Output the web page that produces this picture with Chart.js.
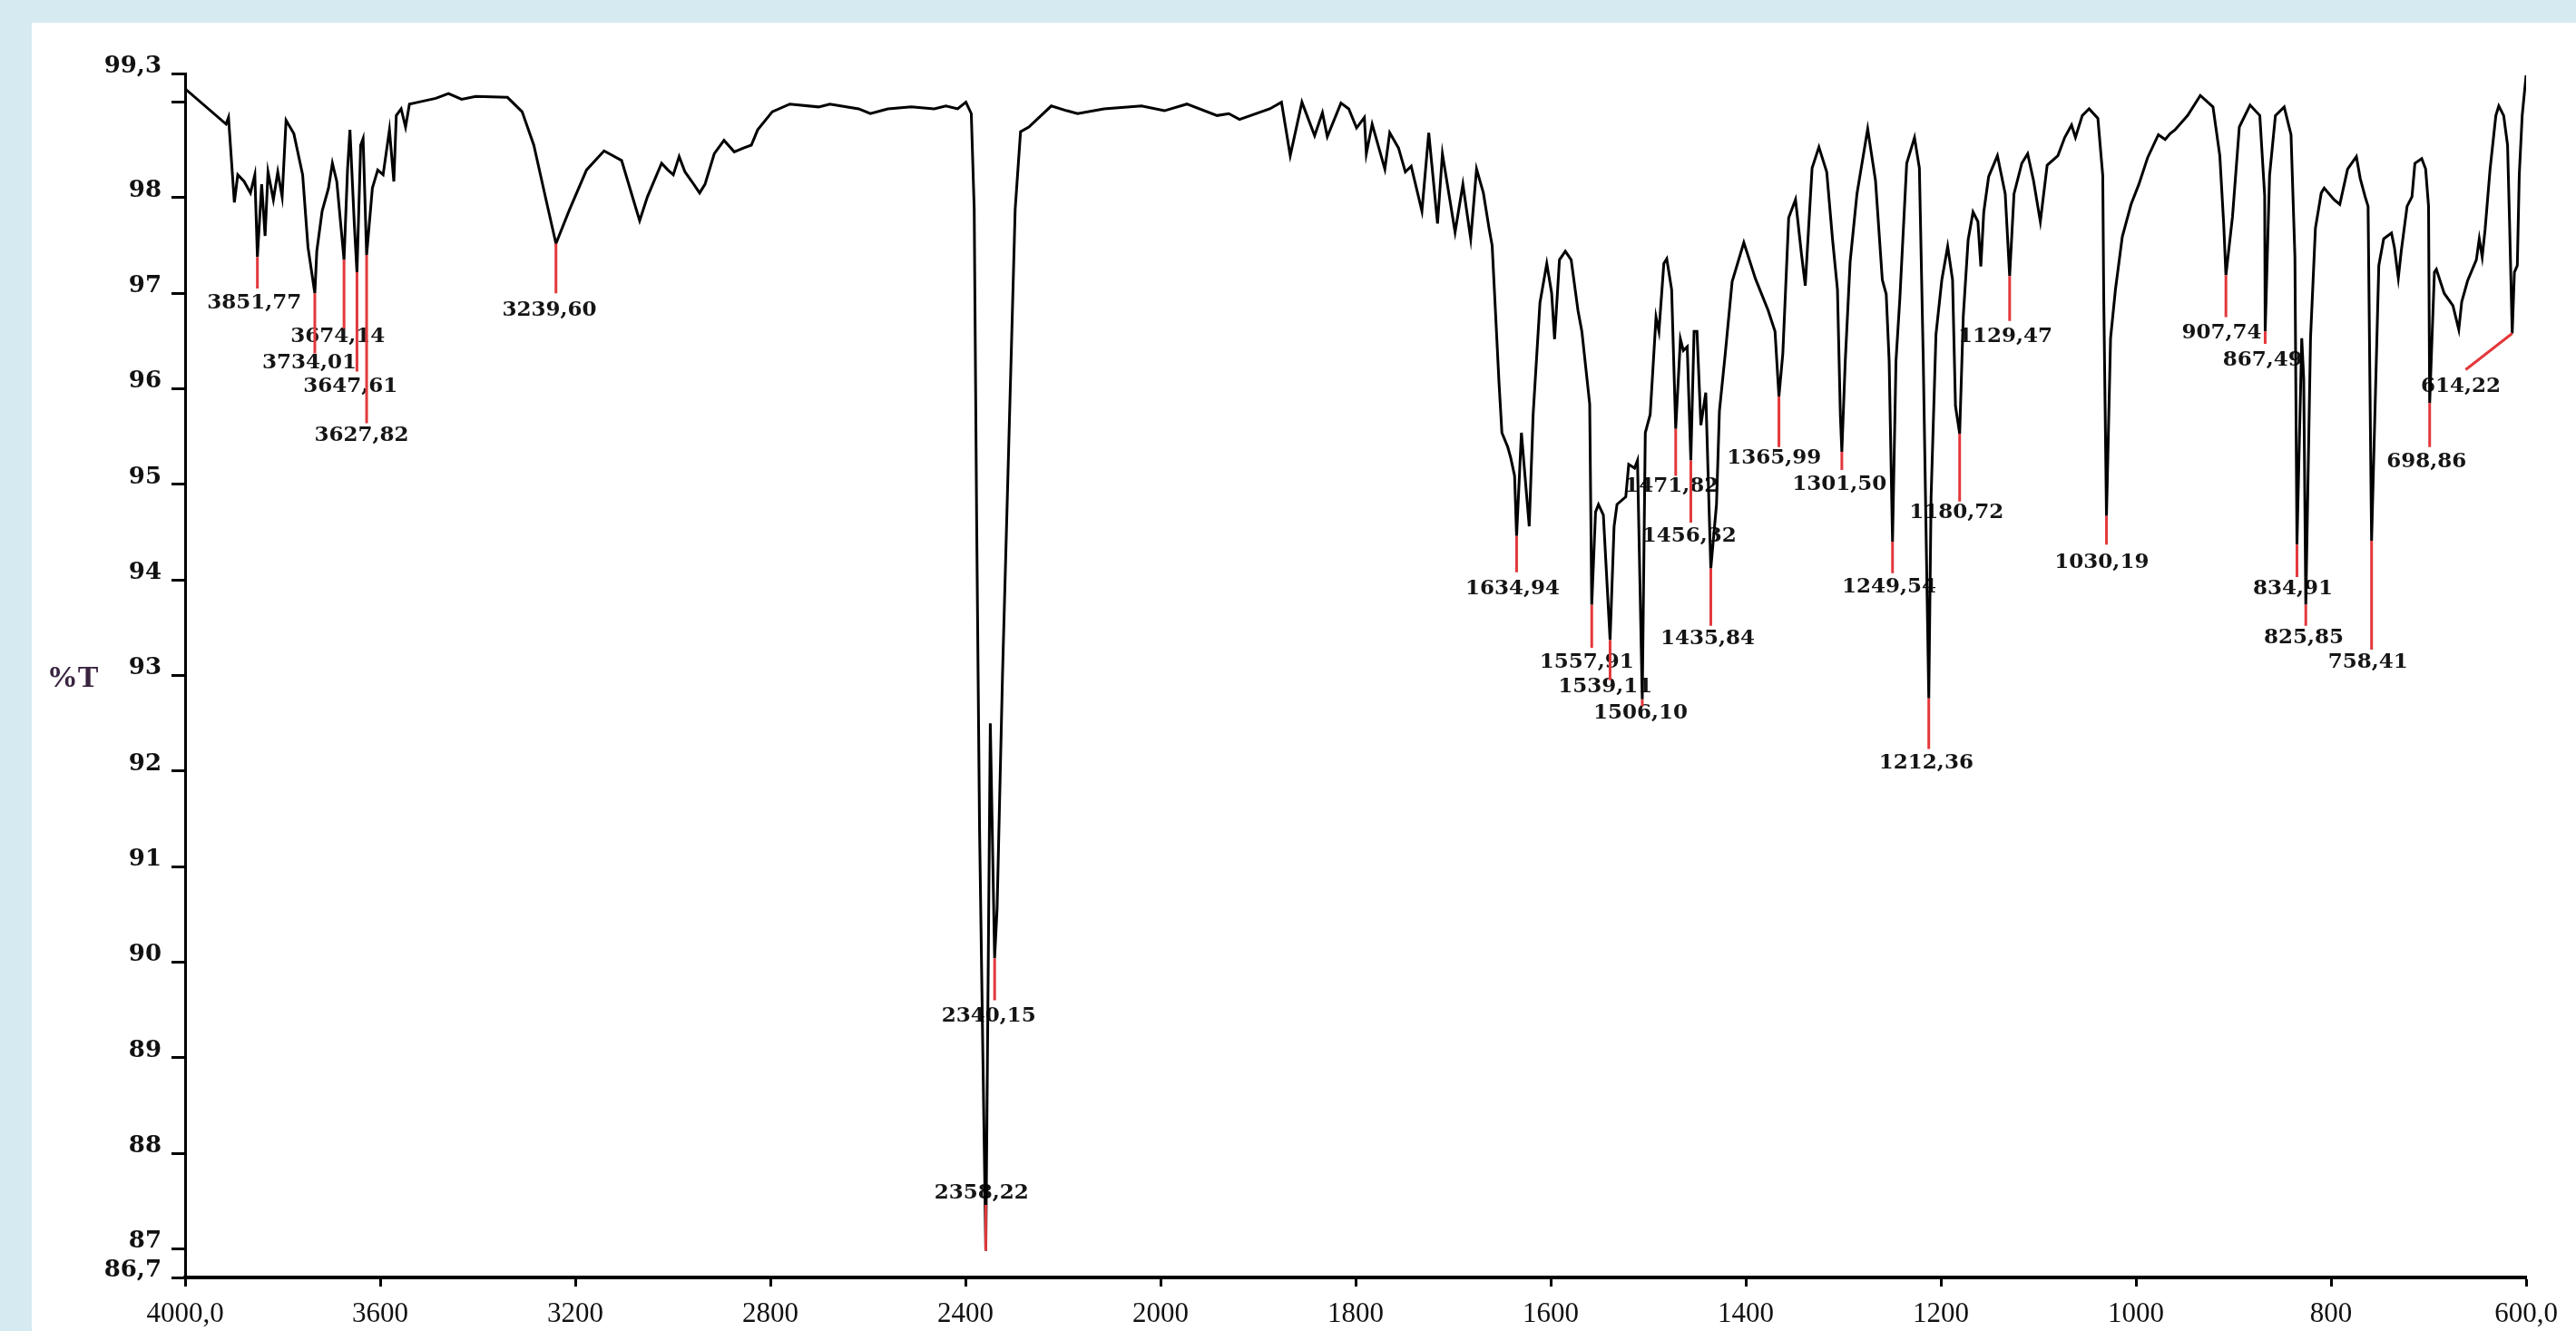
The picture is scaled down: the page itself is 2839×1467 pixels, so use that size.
<!DOCTYPE html>
<html>
<head>
<meta charset="utf-8">
<title>FTIR spectrum</title>
<script src="https://cdn.jsdelivr.net/npm/chart.js@4.4.1/dist/chart.umd.min.js"></script>
<style>
  html, body { margin: 0; padding: 0; width: 2839px; height: 1467px; overflow: hidden; background: #d6eaf1; }
  #panel { position: absolute; left: 35px; top: 25px; right: 0; bottom: 0; background: #ffffff; }
  #spectrum { position: absolute; left: 0; top: 0; }
</style>
</head>
<body>
<div id="panel"></div>
<canvas id="spectrum" width="2839" height="1467"></canvas>
<script>
// ---- Spectrum: wavenumber (cm-1) and transmittance (%T) ----
const waveNumbers = [
  4000, 3916, 3911, 3899, 3892, 3879, 3866, 3857, 3851.77, 3843, 3836, 3830, 3819, 3810, 3801, 3793,
  3777, 3759, 3748, 3734.01, 3730, 3719, 3706, 3698, 3689, 3674.14, 3667, 3662, 3653, 3647.61, 3640, 3635,
  3627.82, 3616, 3605, 3594, 3581, 3572, 3567, 3557, 3548, 3540, 3522, 3486, 3460, 3433, 3404, 3339,
  3309, 3285, 3260, 3239.60, 3213, 3177, 3141, 3105, 3081, 3068, 3052, 3023, 3010, 2999, 2987, 2975,
  2961, 2945, 2934, 2915, 2895, 2874, 2855, 2839, 2826, 2796, 2760, 2701, 2678, 2619, 2595, 2559,
  2511, 2464, 2440, 2416, 2399, 2388, 2382, 2377, 2371, 2364, 2358.22, 2349, 2340.15, 2335, 2324, 2311,
  2298, 2287, 2270, 2224, 2192, 2170, 2116, 2039, 1996, 1973, 1942, 1930, 1919, 1888, 1876, 1867,
  1855, 1842, 1834, 1829, 1815, 1807, 1799, 1791, 1789, 1783, 1770, 1765, 1756, 1749, 1743, 1732,
  1725, 1716, 1711, 1698, 1690, 1682, 1676, 1669, 1663, 1660, 1655, 1653, 1650, 1644, 1641, 1637,
  1634.94, 1630, 1627, 1622, 1618, 1611, 1604, 1599, 1596, 1591, 1585, 1579, 1572, 1568, 1560, 1557.91,
  1554, 1551, 1546, 1539.11, 1535, 1532, 1523, 1520, 1514, 1511, 1506.10, 1503, 1498, 1492, 1489, 1484,
  1481, 1476, 1471.82, 1467, 1464, 1460, 1456.32, 1453, 1450, 1446, 1441, 1435.84, 1430, 1427, 1421, 1414,
  1402, 1390, 1377, 1370, 1365.99, 1362, 1356, 1349, 1343, 1339, 1332, 1325, 1317, 1311, 1306, 1303,
  1301.50, 1298, 1293, 1286, 1275, 1267, 1260, 1256, 1253, 1249.54, 1246, 1242, 1235, 1227, 1222, 1218,
  1212.36, 1210, 1205, 1199, 1193, 1188, 1185, 1180.72, 1177, 1172, 1167, 1162, 1159, 1156, 1151, 1142,
  1134, 1129.47, 1125, 1117, 1111, 1105, 1098, 1091, 1080, 1073, 1066, 1062, 1055, 1048, 1039, 1034,
  1033, 1030.19, 1026, 1021, 1014, 1005, 997, 988, 977, 970, 965, 960, 947, 934, 921, 914,
  910, 907.74, 901, 894, 883, 873, 868, 867.49, 863, 857, 848, 841, 837, 834.91, 830, 828,
  825.85, 821, 816, 810, 807, 797, 791, 783, 774, 770, 765, 762, 758.41, 751, 746, 738,
  735, 731, 728, 722, 717, 714, 707, 703, 700, 698.86, 694, 692, 684, 675, 669, 666,
  660, 651, 648, 645, 642, 637, 631, 628, 623, 619, 617, 614.22, 612, 609, 607, 604,
  600
];
const transmittance = [
  99.14, 98.77, 98.84, 97.95, 98.24, 98.17, 98.05, 98.24, 97.38, 98.14, 97.60, 98.27, 97.98, 98.27, 98.01, 98.81,
  98.67, 98.24, 97.48, 97.00, 97.44, 97.86, 98.10, 98.36, 98.17, 97.35, 98.29, 98.71, 97.72, 97.22, 98.55, 98.62,
  97.40, 98.10, 98.29, 98.24, 98.71, 98.17, 98.86, 98.93, 98.74, 98.98, 99.00, 99.04, 99.09, 99.03, 99.06, 99.05,
  98.90, 98.55, 97.98, 97.52, 97.86, 98.29, 98.49, 98.39, 97.98, 97.76, 98.01, 98.36, 98.29, 98.24, 98.43, 98.27,
  98.17, 98.05, 98.14, 98.46, 98.60, 98.48, 98.52, 98.55, 98.71, 98.90, 98.98, 98.95, 98.98, 98.93, 98.88, 98.93,
  98.95, 98.93, 98.96, 98.93, 99.00, 98.88, 97.88, 94.63, 91.38, 88.95, 86.98, 92.50, 90.04, 90.57, 93.00, 95.44,
  97.88, 98.69, 98.74, 98.96, 98.91, 98.88, 98.93, 98.96, 98.91, 98.98, 98.86, 98.88, 98.82, 98.93, 99.00, 98.44,
  99.00, 98.65, 98.89, 98.64, 98.99, 98.93, 98.73, 98.84, 98.46, 98.77, 98.30, 98.68, 98.52, 98.27, 98.33, 97.86,
  98.68, 97.73, 98.46, 97.64, 98.14, 97.57, 98.30, 98.05, 97.67, 97.50, 96.48, 96.07, 95.54, 95.39, 95.28, 95.09,
  94.46, 95.54, 95.17, 94.56, 95.73, 96.90, 97.31, 97.00, 96.52, 97.35, 97.44, 97.35, 96.82, 96.60, 95.84, 93.74,
  94.71, 94.79, 94.68, 93.37, 94.56, 94.79, 94.87, 95.21, 95.17, 95.25, 92.75, 95.54, 95.73, 96.75, 96.60, 97.31,
  97.36, 97.04, 95.58, 96.52, 96.40, 96.44, 95.25, 96.60, 96.60, 95.62, 95.96, 94.12, 94.79, 95.77, 96.37, 97.12,
  97.53, 97.15, 96.82, 96.60, 95.92, 96.37, 97.79, 97.98, 97.42, 97.08, 98.31, 98.53, 98.27, 97.56, 97.04, 95.72,
  95.34, 96.29, 97.33, 98.04, 98.72, 98.18, 97.14, 96.99, 96.29, 94.40, 96.29, 96.95, 98.36, 98.63, 98.31, 96.29,
  92.76, 94.87, 96.57, 97.14, 97.49, 97.14, 95.82, 95.53, 96.76, 97.56, 97.85, 97.75, 97.28, 97.85, 98.22, 98.44,
  98.04, 97.18, 98.04, 98.36, 98.46, 98.18, 97.75, 98.34, 98.44, 98.63, 98.76, 98.63, 98.86, 98.93, 98.83, 98.23,
  96.96, 94.67, 96.53, 97.04, 97.59, 97.93, 98.14, 98.42, 98.66, 98.61, 98.67, 98.71, 98.86, 99.07, 98.95, 98.44,
  97.72, 97.19, 97.80, 98.74, 98.97, 98.86, 98.02, 96.60, 98.23, 98.86, 98.95, 98.66, 97.38, 94.37, 96.53, 96.11,
  93.74, 96.53, 97.68, 98.05, 98.10, 97.98, 97.93, 98.30, 98.43, 98.20, 98.01, 97.91, 94.41, 97.29, 97.57, 97.63,
  97.48, 97.16, 97.44, 97.91, 98.01, 98.36, 98.41, 98.30, 97.91, 95.85, 97.22, 97.25, 97.00, 96.87, 96.62, 96.91,
  97.13, 97.35, 97.57, 97.38, 97.67, 98.29, 98.86, 98.96, 98.86, 98.55, 97.76, 96.58, 97.22, 97.29, 98.24, 98.86,
  99.28
];

// ---- Labelled peaks ----
const peakWaves = [
  3851.77, 3734.01, 3674.14, 3647.61, 3627.82, 3239.60, 2358.22, 2340.15, 1634.94, 1557.91,
  1539.11, 1506.10, 1471.82, 1456.32, 1435.84, 1365.99, 1301.50, 1249.54, 1212.36, 1180.72,
  1129.47, 1030.19, 907.74, 867.49, 834.91, 825.85, 758.41, 698.86, 614.22
];
// where each red leader line ends (wavenumber, %T)
const leaderEndWave = [
  3851.77, 3734.01, 3674.14, 3647.61, 3627.82, 3239.60, 2358.22, 2340.15, 1634.94, 1557.91,
  1539.11, 1506.10, 1471.82, 1456.32, 1435.84, 1365.99, 1301.50, 1249.54, 1212.36, 1180.72,
  1129.47, 1030.19, 907.74, 867.49, 834.91, 825.85, 758.41, 698.86, 662
];
const leaderEndT = [
  97.05, 96.37, 96.63, 96.18, 95.64, 97.00, 87.46, 89.60, 94.08, 93.29,
  92.95, 92.68, 95.09, 94.60, 93.52, 95.39, 95.15, 94.07, 92.23, 94.82,
  96.71, 94.37, 96.75, 96.47, 94.03, 93.52, 93.27, 95.39, 96.20
];
// centre of each peak's text (wavenumber, %T)
const labelWave = [
  3858, 3745, 3687, 3661, 3638, 3253, 2367, 2352, 1639, 1563,
  1544, 1508, 1476, 1458, 1439, 1371, 1304, 1253, 1215, 1184,
  1134, 1035, 912, 870, 839, 828, 762, 702, 667
];
const labelT = [
  96.90, 96.27, 96.55, 96.02, 95.51, 96.82, 87.58, 89.43, 93.91, 93.14,
  92.88, 92.61, 94.98, 94.46, 93.38, 95.27, 95.00, 93.93, 92.08, 94.70,
  96.55, 94.18, 96.58, 96.30, 93.91, 93.39, 93.14, 95.24, 96.02
];

// ---- Axis ticks ----
const xTickValues = [4000, 3600, 3200, 2800, 2400, 2000, 1800, 1600, 1400, 1200, 1000, 800, 600];
const xTickLabels = ['4000,0', '3600', '3200', '2800', '2400', '2000', '1800', '1600', '1400', '1200', '1000', '800', '600,0'];
const yTickValues = [86.7, 87, 88, 89, 90, 91, 92, 93, 94, 95, 96, 97, 98, 99, 99.3];
const yTickLabels = ['86,7', '87', '88', '89', '90', '91', '92', '93', '94', '95', '96', '97', '98', '', '99,3'];

const axisTitle = '%T';
const formatWave = w => w.toFixed(2).replace('.', ',');

// Wavenumber axis with the usual FTIR scale change at 2000 cm-1:
// 4000-2000 in steps of 400 and 2000-600 in steps of 200, each step the same width.
const SCALE_BREAK = 2000, WN_HIGH = 4000, WN_LOW = 600;
const HIGH_STEP = 400, LOW_STEP = 200;
const HIGH_STEPS = (WN_HIGH - SCALE_BREAK) / HIGH_STEP;
const TOTAL_STEPS = HIGH_STEPS + (SCALE_BREAK - WN_LOW) / LOW_STEP;

class WavenumberScale extends Chart.LinearScale {
  static id = 'wavenumber';
  static defaults = Chart.LinearScale.defaults;
  buildTicks() {
    return xTickValues.map(v => ({ value: v }));
  }
  getPixelForValue(value) {
    if (value === null || value === undefined || isNaN(value)) return NaN;
    const steps = value >= SCALE_BREAK
      ? (WN_HIGH - value) / HIGH_STEP
      : HIGH_STEPS + (SCALE_BREAK - value) / LOW_STEP;
    return this.getPixelForDecimal(steps / TOTAL_STEPS);
  }
  getValueForPixel(pixel) {
    const steps = this.getDecimalForPixel(pixel) * TOTAL_STEPS;
    return steps <= HIGH_STEPS
      ? WN_HIGH - steps * HIGH_STEP
      : SCALE_BREAK - (steps - HIGH_STEPS) * LOW_STEP;
  }
}
Chart.register(WavenumberScale);

const spectrumPoints = waveNumbers.map((w, i) => ({ x: w, y: transmittance[i] }));

const leaderPoints = [];
peakWaves.forEach((w, i) => {
  leaderPoints.push({ x: w, y: transmittance[waveNumbers.indexOf(w)] });
  leaderPoints.push({ x: leaderEndWave[i], y: leaderEndT[i] });
  leaderPoints.push({ x: w, y: null });
});

const peakLabelPlugin = {
  id: 'peakLabels',
  beforeDatasetsDraw(chart) {
    const { ctx, scales: { x, y } } = chart;
    ctx.save();
    ctx.font = 'bold 23px "DejaVu Serif"';
    ctx.fillStyle = '#151515';
    ctx.textAlign = 'center';
    ctx.textBaseline = 'middle';
    peakWaves.forEach((w, i) => {
      ctx.fillText(formatWave(w), x.getPixelForValue(labelWave[i]), y.getPixelForValue(labelT[i]));
    });
    ctx.restore();
  },
  afterDraw(chart) {
    const { ctx, scales: { y } } = chart;
    ctx.save();
    ctx.font = 'bold 34px "Liberation Serif"';
    ctx.fillStyle = '#3a2440';
    ctx.textAlign = 'center';
    ctx.textBaseline = 'middle';
    ctx.fillText(axisTitle, 80, y.getPixelForValue(93) + 4);
    ctx.restore();
  }
};

new Chart(document.getElementById('spectrum'), {
  type: 'line',
  data: {
    datasets: [
      {
        label: 'peak markers',
        data: leaderPoints,
        borderColor: '#e3383b',
        borderWidth: 3,
        pointRadius: 0,
        spanGaps: false,
        tension: 0
      },
      {
        label: 'spectrum',
        data: spectrumPoints,
        borderColor: '#000000',
        borderWidth: 3,
        pointRadius: 0,
        tension: 0
      }
    ]
  },
  options: {
    responsive: false,
    animation: false,
    devicePixelRatio: 1,
    layout: { padding: { top: 81, right: 55, left: 0, bottom: 0 } },
    plugins: { legend: { display: false }, tooltip: { enabled: false } },
    events: [],
    scales: {
      x: {
        type: 'wavenumber',
        min: WN_LOW,
        max: WN_HIGH,
        afterFit(scale) { scale.height = 59; scale.paddingLeft = 0; scale.paddingRight = 0; },
        border: { display: true, color: '#000', width: 4 },
        grid: { drawOnChartArea: false, drawTicks: true, tickLength: 10, tickWidth: 3, tickColor: '#000' },
        ticks: {
          autoSkip: false, maxRotation: 0, minRotation: 0, padding: 12,
          color: '#111',
          font: { family: 'Liberation Serif', size: 31 },
          callback: (v, i) => xTickLabels[i]
        }
      },
      y: {
        type: 'linear',
        min: 86.7,
        max: 99.3,
        afterBuildTicks(scale) { scale.ticks = yTickValues.map(v => ({ value: v })); },
        afterFit(scale) { scale.width = 204; scale.paddingTop = 0; scale.paddingBottom = 0; },
        border: { display: true, color: '#000', width: 3 },
        grid: { drawOnChartArea: false, drawTicks: true, tickLength: 15, tickWidth: 3, tickColor: '#000' },
        ticks: {
          autoSkip: false, padding: 11, labelOffset: -8,
          color: '#111',
          font: { family: 'DejaVu Serif', size: 26, weight: 'bold' },
          callback: (v, i) => yTickLabels[i]
        }
      }
    }
  },
  plugins: [peakLabelPlugin]
});
</script>
</body>
</html>
